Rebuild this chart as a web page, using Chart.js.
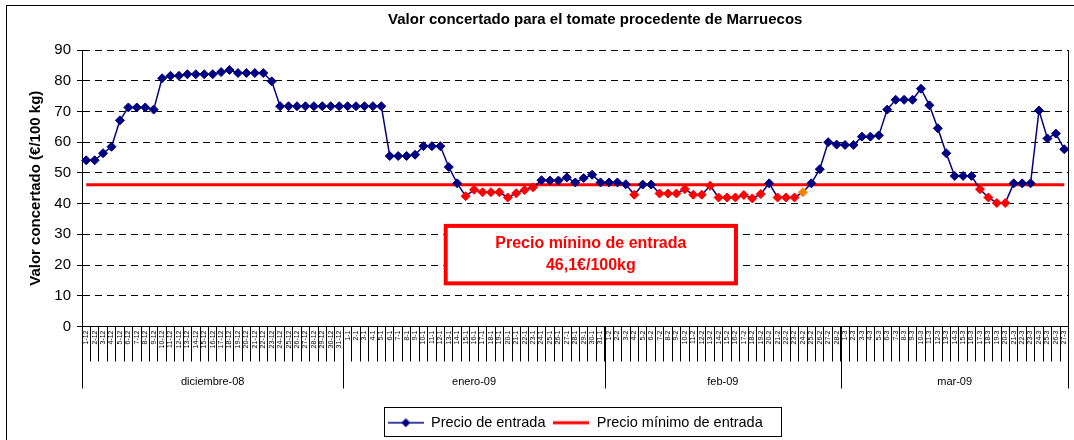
<!DOCTYPE html>
<html>
<head>
<meta charset="utf-8">
<script src="https://cdn.jsdelivr.net/npm/chart.js@4.4.1/dist/chart.umd.min.js"></script>
<style>
  html, body { margin: 0; padding: 0; background: #fff; }
  canvas { display: block; }
</style>
</head>
<body>
<canvas id="chart" width="1074" height="440"></canvas>
<script>
// month groups on the category axis
const MONTHS = ['diciembre-08', 'enero-09', 'feb-09', 'mar-09'];
const MONTH_NUMBERS = [12, 1, 2, 3];
const MONTH_DAYS = [31, 31, 28, 27];

// daily price (€/100 kg)
const PRICES_DEC = [54.1, 54.1, 56.4, 58.5, 67.1, 71.3, 71.3, 71.3, 70.6, 80.8,
  81.6, 81.6, 82.1, 82.1, 82.1, 82.1, 82.8, 83.5, 82.5, 82.5,
  82.5, 82.5, 79.8, 71.7, 71.7, 71.7, 71.7, 71.7, 71.7, 71.7, 71.7];
const PRICES_JAN = [71.7, 71.7, 71.7, 71.7, 71.7, 55.5, 55.5, 55.5, 55.9, 58.7,
  58.7, 58.7, 51.9, 46.6, 42.4, 44.5, 43.7, 43.7, 43.7, 42.0,
  43.4, 44.4, 45.3, 47.6, 47.5, 47.5, 48.5, 46.9, 48.3, 49.4, 46.9];
const PRICES_FEB = [46.9, 46.9, 46.3, 42.9, 46.2, 46.2, 43.3, 43.3, 43.3, 44.7,
  42.9, 42.9, 45.8, 42.0, 42.0, 42.0, 42.8, 41.7, 43.1, 46.6,
  42.0, 42.0, 42.0, 43.7, 46.6, 51.2, 60.0, 59.2];
const PRICES_MAR = [59.1, 59.1, 61.8, 61.8, 62.2, 70.6, 73.8, 73.8, 73.8, 77.4,
  72.0, 64.5, 56.4, 49.0, 49.0, 49.0, 44.7, 42.0, 40.2, 40.2,
  46.6, 46.6, 46.6, 70.3, 61.2, 62.8, 57.7];

const MIN_PRICE = 46.1;
const ORANGE_DAY = '24-2';

const NOTE_LINES = ['Precio mínino de entrada', '46,1€/100kg'];
// note box corners in axis units (category index / price)
const NOTE_BOX = { from: 42.4, to: 77.3, top: 33.4, bottom: 13.4 };

const NAVY = '#000080';
const RED = '#FF0000';
const ORANGE = '#FF8000';
const FONT = "'Liberation Sans', Arial, sans-serif";

const days = MONTHS.flatMap((m, i) =>
  Array.from({ length: MONTH_DAYS[i] }, (_, d) => (d + 1) + '-' + MONTH_NUMBERS[i]));
const prices = [...PRICES_DEC, ...PRICES_JAN, ...PRICES_FEB, ...PRICES_MAR];
const orangeIndex = days.indexOf(ORANGE_DAY);

const markerColor = (ctx) => {
  if (ctx.dataIndex === orangeIndex) return ORANGE;
  return ctx.raw < MIN_PRICE ? RED : NAVY;
};

function legendIcon(color, width, marker) {
  const c = document.createElement('canvas');
  c.width = 36;
  c.height = 12;
  const g = c.getContext('2d');
  g.strokeStyle = color;
  g.lineWidth = width;
  g.beginPath();
  g.moveTo(0, 6);
  g.lineTo(36, 6);
  g.stroke();
  if (marker) {
    g.fillStyle = color;
    g.beginPath();
    g.moveTo(18, 1.5);
    g.lineTo(22.5, 6);
    g.lineTo(18, 10.5);
    g.lineTo(13.5, 6);
    g.closePath();
    g.fill();
  }
  return c;
}
const icons = [legendIcon(NAVY, 1.5, true), legendIcon(RED, 3, false)];

const decorations = {
  id: 'decorations',
  afterLayout(chart) {
    // the original title sits a bit right of the plot centre
    if (chart.titleBlock) chart.titleBlock.left += 40;
  },
  beforeDraw(chart) {
    const ctx = chart.ctx;
    ctx.save();
    ctx.fillStyle = '#fff';
    ctx.fillRect(0, 0, chart.width, chart.height);
    ctx.strokeStyle = '#000';
    ctx.lineWidth = 1;
    ctx.strokeRect(6.5, 5.5, chart.width + 10, chart.height + 10);
    ctx.restore();
  },
  afterDraw(chart) {
    const { ctx, chartArea: area, scales: { x, y } } = chart;
    const half = (x.getPixelForValue(1) - x.getPixelForValue(0)) / 2;
    const sepBottom = area.bottom + 62;
    ctx.save();

    // month separators and names
    ctx.strokeStyle = '#000';
    ctx.lineWidth = 1;
    ctx.fillStyle = '#000';
    ctx.font = '11px ' + FONT;
    ctx.textAlign = 'center';
    ctx.textBaseline = 'middle';
    let start = 0;
    MONTHS.forEach((name, i) => {
      const end = start + MONTH_DAYS[i] - 1;
      const x0 = x.getPixelForValue(start) - half;
      const x1 = x.getPixelForValue(end) + half;
      ctx.beginPath();
      ctx.moveTo(Math.round(x0) + 0.5, area.bottom);
      ctx.lineTo(Math.round(x0) + 0.5, sepBottom);
      ctx.stroke();
      ctx.fillText(name, (x0 + x1) / 2, area.bottom + 55);
      start = end + 1;
    });
    // right edge of the plot
    ctx.beginPath();
    ctx.moveTo(Math.round(area.right) - 0.5, area.top);
    ctx.lineTo(Math.round(area.right) - 0.5, sepBottom);
    ctx.stroke();

    // note box
    const bx0 = x.getPixelForValue(NOTE_BOX.from);
    const bx1 = x.getPixelForValue(NOTE_BOX.to);
    const by0 = y.getPixelForValue(NOTE_BOX.top);
    const by1 = y.getPixelForValue(NOTE_BOX.bottom);
    ctx.fillStyle = '#fff';
    ctx.fillRect(bx0, by0, bx1 - bx0, by1 - by0);
    ctx.strokeStyle = RED;
    ctx.lineWidth = 4;
    ctx.strokeRect(bx0 + 2, by0 + 2, bx1 - bx0 - 4, by1 - by0 - 4);
    ctx.fillStyle = RED;
    ctx.font = 'bold 16px ' + FONT;
    const cy = (by0 + by1) / 2;
    ctx.fillText(NOTE_LINES[0], (bx0 + bx1) / 2, cy - 11);
    ctx.fillText(NOTE_LINES[1], (bx0 + bx1) / 2, cy + 11);

    // legend frame
    const hb = chart.legend.legendHitBoxes;
    if (hb && hb.length) {
      const last = hb[hb.length - 1];
      const lx0 = Math.round(hb[0].left - 4) + 0.5;
      const lx1 = Math.round(last.left + last.width + 18) + 0.5;
      const ly0 = Math.round(hb[0].top - 9) + 0.5;
      ctx.strokeStyle = '#000';
      ctx.lineWidth = 1;
      ctx.strokeRect(lx0, ly0, lx1 - lx0, 29);
    }
    ctx.restore();
  }
};

new Chart(document.getElementById('chart'), {
  type: 'line',
  data: {
    labels: days,
    datasets: [
      {
        label: 'Precio de entrada',
        data: prices,
        borderColor: NAVY,
        borderWidth: 1.5,
        pointStyle: 'rectRot',
        pointRadius: 4.5,
        pointBorderWidth: 1,
        pointBackgroundColor: markerColor,
        pointBorderColor: markerColor,
        tension: 0
      },
      {
        label: 'Precio mínimo de entrada',
        data: days.map(() => MIN_PRICE),
        borderColor: RED,
        borderWidth: 3,
        pointRadius: 0
      }
    ]
  },
  options: {
    responsive: false,
    animation: false,
    events: [],
    layout: { padding: { left: 0, right: 2, top: 0, bottom: 0 } },
    plugins: {
      title: {
        display: true,
        text: 'Valor concertado para el tomate procedente de Marruecos',
        fullSize: false,
        color: '#000',
        font: { family: FONT, size: 15, weight: 'bold' },
        padding: { top: 11, bottom: 21 }
      },
      legend: {
        position: 'bottom',
        fullSize: false,
        labels: {
          usePointStyle: true,
          pointStyleWidth: 36,
          padding: 8,
          color: '#000',
          font: { family: FONT, size: 14.5 },
          generateLabels: (chart) => chart.data.datasets.map((ds, i) => ({
            text: ds.label,
            pointStyle: icons[i],
            fillStyle: 'transparent',
            strokeStyle: 'transparent',
            lineWidth: 0,
            hidden: false,
            fontColor: '#000',
            datasetIndex: i
          }))
        }
      },
      tooltip: { enabled: false }
    },
    scales: {
      x: {
        type: 'category',
        offset: true,
        grid: { offset: true, drawOnChartArea: false, tickLength: 35, color: '#000' },
        border: { color: '#000' },
        ticks: {
          autoSkip: false,
          minRotation: 90,
          maxRotation: 90,
          padding: -31,
          color: '#000',
          font: { family: FONT, size: 7 }
        },
        afterFit: (s) => { s.height = 81; }
      },
      y: {
        min: 0,
        max: 90,
        ticks: { stepSize: 10, padding: 6, color: '#000', font: { family: FONT, size: 15 } },
        grid: { color: '#000', tickLength: 5, tickColor: '#000', tickBorderDash: [] },
        border: { color: '#000', dash: [7, 5] },
        title: {
          display: true,
          text: 'Valor concertado (€/100 kg)',
          color: '#000',
          font: { family: FONT, size: 15, weight: 'bold' },
          padding: { top: 27, bottom: 0 }
        },
        afterFit: (s) => { s.width = 82; }
      }
    }
  },
  plugins: [decorations]
});
</script>
</body>
</html>
